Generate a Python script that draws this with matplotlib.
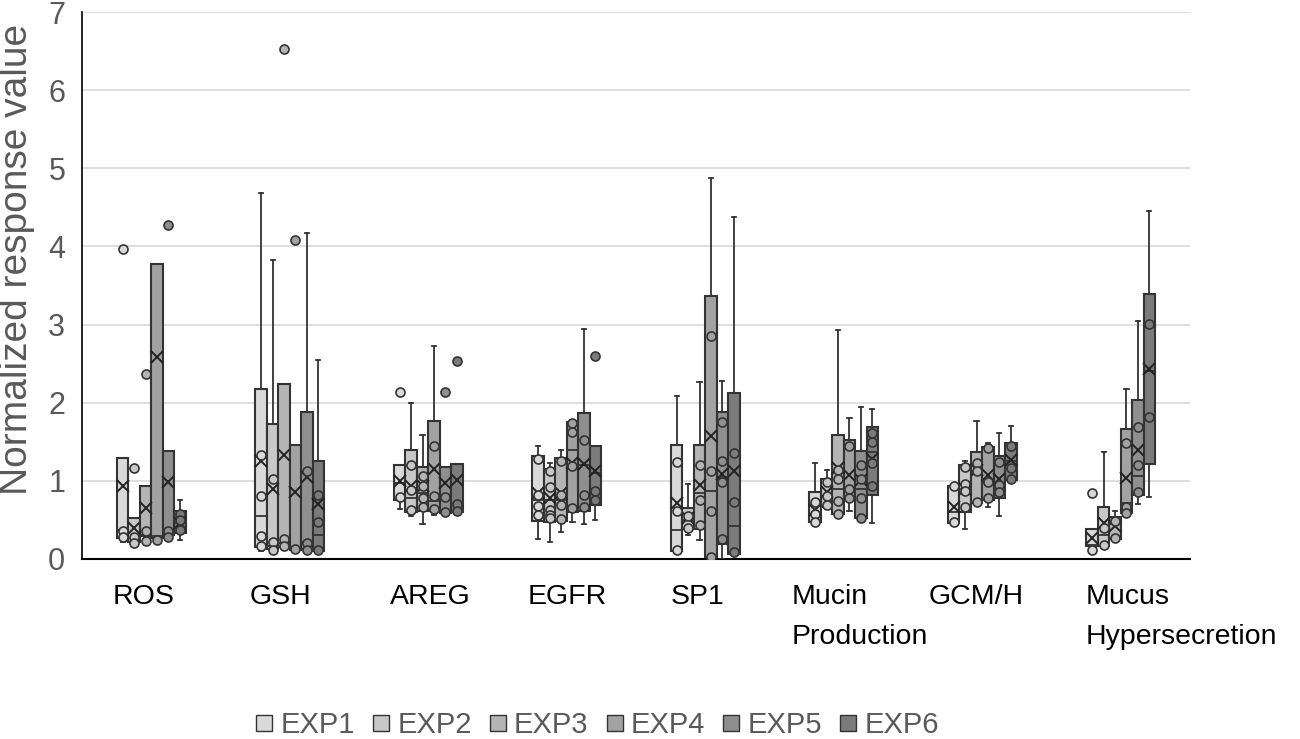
import matplotlib
matplotlib.use("Agg")
import matplotlib.pyplot as plt
from matplotlib.lines import Line2D
import matplotlib.transforms as mtransforms

categories = ["ROS", "GSH", "AREG", "EGFR", "SP1", "Mucin\nProduction", "GCM/H", "Mucus\nHypersecretion"]
experiments = ["EXP1", "EXP2", "EXP3", "EXP4", "EXP5", "EXP6"]

# rows = experiments, columns = categories
q1 = [
    [0.27, 0.15, 0.76, 0.49, 0.10, 0.47, 0.46, 0.16],
    [0.22, 0.13, 0.60, 0.47, 0.38, 0.67, 0.60, 0.16],
    [0.29, 0.15, 0.62, 0.48, 0.39, 0.57, 0.72, 0.26],
    [0.27, 0.12, 0.61, 0.60, 0.02, 0.75, 0.75, 0.59],
    [0.31, 0.13, 0.59, 0.61, 0.19, 0.52, 0.78, 0.82],
    [0.33, 0.10, 0.60, 0.69, 0.07, 0.82, 1.01, 1.21],
]
median = [
    [0.37, 0.55, 0.97, 0.75, 0.37, 0.57, 0.60, 0.18],
    [0.27, 0.16, 0.78, 0.75, 0.50, 0.80, 0.90, 0.31],
    [0.31, 0.20, 0.84, 0.76, 0.84, 0.89, 1.13, 0.45],
    [0.29, 0.14, 0.74, 1.40, 0.87, 0.90, 0.98, 0.72],
    [0.33, 0.22, 0.80, 1.20, 1.05, 0.90, 0.95, 1.06],
    [0.46, 0.31, 0.70, 1.10, 0.42, 1.37, 1.25, 2.40],
]
q3 = [
    [1.29, 2.17, 1.20, 1.32, 1.46, 0.86, 0.93, 0.38],
    [0.52, 1.73, 1.40, 1.15, 0.65, 1.02, 1.20, 0.66],
    [0.93, 2.24, 1.18, 1.29, 1.46, 1.59, 1.37, 0.54],
    [3.77, 1.46, 1.76, 1.75, 3.36, 1.52, 1.43, 1.67],
    [1.38, 1.88, 1.18, 1.87, 1.88, 1.38, 1.32, 2.03],
    [0.62, 1.25, 1.22, 1.45, 2.12, 1.69, 1.48, 3.39],
]
whisker_low = [
    [0.22, 0.10, 0.64, 0.26, 0.10, 0.47, 0.46, 0.11],
    [0.18, 0.10, 0.55, 0.22, 0.31, 0.64, 0.39, 0.16],
    [0.23, 0.12, 0.45, 0.35, 0.24, 0.57, 0.72, 0.26],
    [0.24, 0.10, 0.56, 0.47, 0.02, 0.61, 0.66, 0.57],
    [0.28, 0.10, 0.59, 0.45, 0.00, 0.52, 0.55, 0.71],
    [0.24, 0.09, 0.60, 0.50, 0.07, 0.46, 1.01, 0.79],
]
whisker_high = [
    [1.29, 4.68, 1.20, 1.44, 2.09, 1.23, 0.93, 0.38],
    [0.52, 3.83, 1.99, 1.23, 0.96, 1.14, 1.26, 1.37],
    [0.93, 2.24, 1.59, 1.40, 2.26, 2.93, 1.77, 0.62],
    [3.77, 1.46, 2.72, 1.75, 4.88, 1.80, 1.48, 2.18],
    [1.38, 4.17, 1.18, 2.94, 2.28, 1.95, 1.61, 3.04],
    [0.75, 2.55, 1.22, 1.45, 4.38, 1.92, 1.70, 4.45],
]
mean = [
    [0.94, 1.25, 1.00, 0.84, 0.72, 0.63, 0.66, 0.27],
    [0.40, 0.90, 0.93, 0.78, 0.53, 0.86, 0.89, 0.46],
    [0.65, 1.33, 0.93, 0.84, 0.95, 1.16, 1.14, 0.42],
    [2.58, 0.86, 1.15, 1.23, 1.58, 1.08, 1.08, 1.04],
    [0.98, 1.05, 0.97, 1.22, 1.09, 1.01, 1.02, 1.40],
    [0.46, 0.71, 1.01, 1.12, 1.12, 1.28, 1.27, 2.43],
]
inner_points = [
    [[0.36, 0.28], [1.33, 0.81, 0.29, 0.16], [0.79], [1.28, 0.82, 0.68, 0.56], [1.24, 0.61, 0.11],
     [0.73, 0.57, 0.47], [0.93, 0.47], [0.12]],
    [[0.28, 0.20], [1.03, 0.22, 0.11], [1.20, 0.88, 0.63], [1.12, 0.92, 0.63, 0.56, 0.52], [0.55, 0.40],
     [0.98, 0.80, 0.69], [1.18, 0.96, 0.87, 0.66], [0.40, 0.18]],
    [[0.36, 0.23], [0.25, 0.17], [1.06, 0.93, 0.78, 0.67], [1.25, 0.82, 0.69, 0.51], [1.20, 0.75, 0.43],
     [1.14, 1.03, 0.74, 0.58], [1.23, 1.13, 0.73], [0.48, 0.27]],
    [[0.24], [0.13], [1.45, 0.81, 0.64], [1.74, 1.63, 1.19, 0.65], [2.85, 1.13, 0.61, 0.03],
     [1.44, 0.89, 0.78], [1.42, 0.98, 0.78], [1.49, 0.67, 0.59]],
    [[0.36, 0.28], [1.12, 0.20, 0.11], [0.79, 0.60], [1.52, 0.82, 0.66], [1.75, 1.26, 0.98, 0.25],
     [1.20, 1.02, 0.78, 0.53], [1.24, 0.95, 0.86], [1.69, 1.20, 0.86]],
    [[0.57, 0.50, 0.37], [0.82, 0.47, 0.11], [0.71, 0.61], [0.87, 0.75], [1.36, 0.73, 0.09],
     [1.61, 1.50, 1.23, 0.94], [1.44, 1.17, 1.03], [3.01, 1.82]],
]
outliers = [
    [[3.97], [], [2.14], [], [], [], [], [0.85]],
    [[1.17], [], [], [], [], [], [], []],
    [[2.37], [6.53], [], [], [], [], [], []],
    [[], [4.08], [], [], [], [], [], []],
    [[4.27], [], [2.14], [], [], [], [], []],
    [[], [], [2.53], [2.60], [], [], [], []],
]
y_ticks = [0, 1, 2, 3, 4, 5, 6, 7]

# styling
colors = ["#D9D9D9", "#C8C8C8", "#B4B4B4", "#A2A2A2", "#8F8F8F", "#7B7B7B"]
edge = "#333333"
label_shift_px = [-39, -40, -38, -39, -35, -52, -54, -35]

fig = plt.figure(figsize=(13, 7.39), dpi=100)
ax = fig.add_axes([82 / 1300, 1 - 559 / 739, (1190 - 82) / 1300, (559 - 12) / 739])

box_w = 0.0825
n_exp = len(experiments)
for j, exp in enumerate(experiments):
    stats = []
    positions = []
    for i in range(len(categories)):
        stats.append(dict(med=median[j][i], q1=q1[j][i], q3=q3[j][i],
                          whislo=whisker_low[j][i], whishi=whisker_high[j][i],
                          mean=mean[j][i], fliers=outliers[j][i]))
        positions.append(i + 0.5 + (j - (n_exp - 1) / 2) * box_w)
    ax.bxp(stats, positions=positions, widths=box_w, capwidths=0.03,
           patch_artist=True, showmeans=True, showfliers=True, manage_ticks=False,
           boxprops=dict(facecolor=colors[j], edgecolor=edge, linewidth=1.5),
           medianprops=dict(color=edge, linewidth=1.3),
           whiskerprops=dict(color=edge, linewidth=1.3),
           capprops=dict(color=edge, linewidth=1.3),
           meanprops=dict(marker="x", markersize=9, markeredgecolor="#222222",
                          markeredgewidth=1.4, linestyle="none"),
           flierprops=dict(marker="o", markersize=6.5, markerfacecolor=colors[j],
                           markeredgecolor=edge, markeredgewidth=1.2, linestyle="none"),
           zorder=3)
    for i in range(len(categories)):
        pts = inner_points[j][i]
        ax.plot([positions[i]] * len(pts), pts, linestyle="none", marker="o",
                markersize=6.5, markerfacecolor=colors[j], markeredgecolor=edge,
                markeredgewidth=1.2, zorder=4)

ax.set_xlim(0, len(categories))
ax.set_ylim(0, 7)
ax.set_yticks(y_ticks)
ax.set_yticklabels([str(t) for t in y_ticks], fontsize=22, color="#595959",
                   fontfamily="Liberation Sans")
ax.yaxis.grid(True, color="#D9D9D9", linewidth=1.2)
ax.set_axisbelow(True)
ax.tick_params(axis="both", length=0, pad=12)
for s in ["top", "right"]:
    ax.spines[s].set_visible(False)
ax.spines["left"].set_color("#000000")
ax.spines["left"].set_linewidth(1.2)
ax.spines["bottom"].set_color("#000000")
ax.spines["bottom"].set_linewidth(1.5)

ax.set_xticks([i + 0.5 for i in range(len(categories))])
ax.set_xticklabels(categories, fontsize=20.5, color="#000000",
                   fontfamily="Liberation Sans",
                   ha="left", va="top", linespacing=1.7)
for lab, dx in zip(ax.get_xticklabels(), label_shift_px):
    offset = mtransforms.ScaledTranslation(dx / 100, -8 / 100, fig.dpi_scale_trans)
    lab.set_transform(lab.get_transform() + offset)

fig.text(27 / 1300, 1 - 259 / 739, "Normalized response value", fontsize=28, color="#595959",
         fontfamily="Liberation Sans", rotation=90, rotation_mode="anchor",
         ha="center", va="baseline")

handles = [Line2D([0], [0], marker="s", linestyle="none", markersize=12,
                  markerfacecolor=c, markeredgecolor=edge, markeredgewidth=1.0)
           for c in colors]
fig.legend(handles, experiments, loc="center", bbox_to_anchor=(595 / 1300, 1 - 725 / 739),
           ncol=6, frameon=False, handletextpad=0.1, columnspacing=0.45,
           prop=dict(family="Liberation Sans", size=21), labelcolor="#595959",
           handlelength=0.9)

fig.savefig("out.png", dpi=100)
